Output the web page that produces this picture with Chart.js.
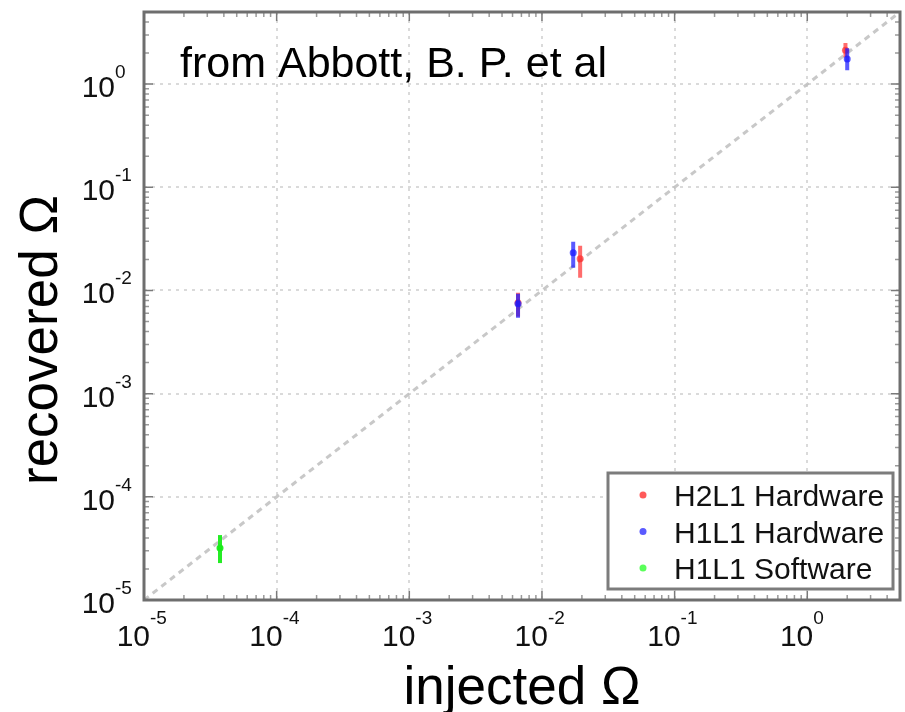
<!DOCTYPE html>
<html>
<head>
<meta charset="utf-8">
<script src="https://cdn.jsdelivr.net/npm/chart.js@4.4.1/dist/chart.umd.min.js"></script>
<style>
  html, body { margin: 0; padding: 0; background: #fff; }
  canvas { display: block; }
</style>
</head>
<body>
<canvas id="chart" width="905" height="712"></canvas>
<script>
const seriesNames = ["H2L1 Hardware", "H1L1 Hardware", "H1L1 Software"];

// H2L1 hardware injections
const h2l1X = [6.6e-3, 0.0194, 1.94];
const h2l1Y = [7.6e-3, 0.0203, 2.13];
const h2l1Lo = [5.6e-3, 0.0133, 1.82];
const h2l1Hi = [9.5e-3, 0.0271, 2.5];

// H1L1 hardware injections
const h1l1X = [6.6e-3, 0.0172, 2.0];
const h1l1Y = [7.45e-3, 0.0232, 1.75];
const h1l1Lo = [5.45e-3, 0.0166, 1.36];
const h1l1Hi = [9.3e-3, 0.0296, 2.23];

// H1L1 software injection
const softX = [3.74e-5];
const softY = [3.2e-5];
const softLo = [2.28e-5];
const softHi = [4.26e-5];

const decadeTicks = [1e-5, 1e-4, 1e-3, 1e-2, 1e-1, 1];
const tickExponents = ["-5", "-4", "-3", "-2", "-1", "0"];
const minorSteps = [2, 3, 4, 5, 6, 7, 8, 9];
const axisMin = 1e-5;
const axisMax = 5;
const diagonal = [1e-5, 5];

const red = "rgba(255, 45, 45, 0.7)";
const blue = "rgba(25, 25, 255, 0.72)";
const green = "rgba(25, 235, 25, 0.95)";
const legendColors = ["#ff5a5a", "#5a5aff", "#5aff5a"];

function points(xs, ys) {
  return xs.map((x, i) => ({ x: x, y: ys[i] }));
}
function bars(xs, lo, hi) {
  return xs.flatMap((x, i) => [{ x: x, y: lo[i] }, { x: x, y: hi[i] }, { x: x, y: null }]);
}
function barSet(data, color, order) {
  return { type: "line", data: data, borderColor: color, borderWidth: 4, pointRadius: 0,
           spanGaps: false, order: order, borderCapStyle: "butt" };
}
function pointSet(data, color, order) {
  return { type: "scatter", data: data, backgroundColor: color, borderColor: color,
           pointRadius: 3.5, borderWidth: 0, order: order };
}

const decor = {
  id: "decor",
  afterDraw(chart) {
    const ctx = chart.ctx;
    const a = chart.chartArea;
    const xs = chart.scales.x;
    const ys = chart.scales.y;
    ctx.save();

    // minor + major ticks, pointing inward
    ctx.strokeStyle = "#9a9a9a";
    ctx.lineWidth = 1.5;
    decadeTicks.forEach((d) => {
      minorSteps.forEach((m) => {
        const v = d * m;
        if (v > axisMax) return;
        const px = xs.getPixelForValue(v);
        const py = ys.getPixelForValue(v);
        ctx.beginPath();
        ctx.moveTo(px, a.bottom); ctx.lineTo(px, a.bottom - 5);
        ctx.moveTo(px, a.top); ctx.lineTo(px, a.top + 5);
        ctx.moveTo(a.left, py); ctx.lineTo(a.left + 5, py);
        ctx.moveTo(a.right, py); ctx.lineTo(a.right - 5, py);
        ctx.stroke();
      });
    });
    ctx.strokeStyle = "#7a7a7a";
    decadeTicks.forEach((d) => {
      const px = xs.getPixelForValue(d);
      const py = ys.getPixelForValue(d);
      ctx.beginPath();
      ctx.moveTo(px, a.bottom); ctx.lineTo(px, a.bottom - 9);
      ctx.moveTo(px, a.top); ctx.lineTo(px, a.top + 9);
      ctx.moveTo(a.left, py); ctx.lineTo(a.left + 9, py);
      ctx.moveTo(a.right, py); ctx.lineTo(a.right - 9, py);
      ctx.stroke();
    });

    // frame
    ctx.strokeStyle = "#6e6e6e";
    ctx.lineWidth = 3;
    ctx.strokeRect(a.left, a.top, a.right - a.left, a.bottom - a.top);

    // tick labels 10^n
    ctx.fillStyle = "#111";
    ctx.textBaseline = "alphabetic";
    decadeTicks.forEach((d, i) => {
      const px = xs.getPixelForValue(d);
      ctx.font = "30px 'Liberation Sans', Arial, sans-serif";
      ctx.textAlign = "right";
      ctx.fillText("10", px + 6, a.bottom + 46);
      ctx.font = "19px 'Liberation Sans', Arial, sans-serif";
      ctx.textAlign = "left";
      ctx.fillText(tickExponents[i], px + 6, a.bottom + 24);

      const py = ys.getPixelForValue(d);
      ctx.font = "30px 'Liberation Sans', Arial, sans-serif";
      ctx.textAlign = "right";
      ctx.fillText("10", a.left - 29, py + 13);
      ctx.font = "19px 'Liberation Sans', Arial, sans-serif";
      ctx.textAlign = "left";
      ctx.fillText(tickExponents[i], a.left - 29, py - 6);
    });

    // axis titles
    ctx.fillStyle = "#000";
    ctx.font = "53px 'Liberation Sans', Arial, sans-serif";
    ctx.textAlign = "center";
    ctx.fillText("injected \u03A9", (a.left + a.right) / 2, a.bottom + 104);
    ctx.save();
    ctx.translate(a.left - 87, a.top + 328);
    ctx.rotate(-Math.PI / 2);
    ctx.fillText("recovered \u03A9", 0, 0);
    ctx.restore();

    // annotation
    ctx.font = "43px 'Liberation Sans', Arial, sans-serif";
    ctx.textAlign = "left";
    ctx.fillText("from Abbott, B. P. et al", a.left + 36, a.top + 65);

    // legend box
    const bx = a.right - 292, by = a.bottom - 127, bw = 285, bh = 116;
    ctx.fillStyle = "#fff";
    ctx.fillRect(bx, by, bw, bh);
    ctx.strokeStyle = "#7c7c7c";
    ctx.lineWidth = 3;
    ctx.strokeRect(bx, by, bw, bh);
    ctx.font = "30px 'Liberation Sans', Arial, sans-serif";
    ctx.textBaseline = "middle";
    seriesNames.forEach((name, i) => {
      const ry = by + 22 + i * 36.5;
      ctx.fillStyle = legendColors[i];
      ctx.beginPath();
      ctx.arc(bx + 35, ry, 3.5, 0, Math.PI * 2);
      ctx.fill();
      ctx.fillStyle = "#111";
      ctx.fillText(name, bx + 66, ry + 3);
    });
    ctx.restore();
  }
};

new Chart(document.getElementById("chart").getContext("2d"), {
  type: "scatter",
  data: {
    datasets: [
      { type: "line", data: points(diagonal, diagonal), borderColor: "rgba(190,190,190,0.85)",
        borderWidth: 3, borderDash: [6, 5], pointRadius: 0, order: 10 },
      barSet(bars(h2l1X, h2l1Lo, h2l1Hi), red, 5),
      pointSet(points(h2l1X, h2l1Y), red, 4),
      barSet(bars(h1l1X, h1l1Lo, h1l1Hi), blue, 3),
      pointSet(points(h1l1X, h1l1Y), blue, 2),
      barSet(bars(softX, softLo, softHi), green, 3),
      pointSet(points(softX, softY), green, 2),
    ],
  },
  options: {
    responsive: false,
    animation: false,
    layout: { padding: { left: 144, top: 12, right: 5, bottom: 112 } },
    plugins: { legend: { display: false }, tooltip: { enabled: false } },
    scales: {
      x: {
        type: "logarithmic", min: axisMin, max: axisMax,
        afterBuildTicks: (s) => { s.ticks = decadeTicks.map((v) => ({ value: v })); },
        afterFit: (s) => { s.height = 0; },
        ticks: { display: false },
        grid: { color: "#dadada", lineWidth: 2, drawTicks: false },
        border: { display: false, dash: [3, 5] },
      },
      y: {
        type: "logarithmic", min: axisMin, max: axisMax,
        afterBuildTicks: (s) => { s.ticks = decadeTicks.map((v) => ({ value: v })); },
        afterFit: (s) => { s.width = 0; },
        ticks: { display: false },
        grid: { color: "#dadada", lineWidth: 2, drawTicks: false },
        border: { display: false, dash: [3, 5] },
      },
    },
  },
  plugins: [decor],
});
</script>
</body>
</html>
